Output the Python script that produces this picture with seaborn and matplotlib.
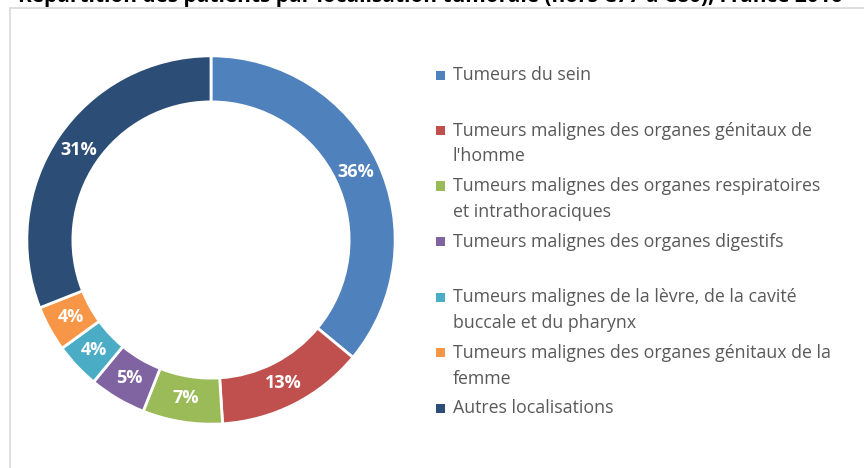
import matplotlib
matplotlib.use("Agg")
import matplotlib.pyplot as plt
import seaborn as sns
from matplotlib.patches import Rectangle
from matplotlib.lines import Line2D

# données
categories = [
    "Tumeurs du sein",
    "Tumeurs malignes des organes génitaux de\nl'homme",
    "Tumeurs malignes des organes respiratoires\net intrathoraciques",
    "Tumeurs malignes des organes digestifs",
    "Tumeurs malignes de la lèvre, de la cavité\nbuccale et du pharynx",
    "Tumeurs malignes des organes génitaux de la\nfemme",
    "Autres localisations",
]
pourcentages = [36, 13, 7, 5, 4, 4, 31]
couleurs = ["#4F81BD", "#C0504D", "#9BBB59", "#8064A2", "#4BACC6", "#F79646", "#2C4D75"]

sns.set_theme(style="white")
plt.rcParams['font.family'] = ['Open Sans', 'DejaVu Sans']
palette = sns.color_palette(couleurs)

W, H = 864, 468
fig = plt.figure(figsize=(W / 100, H / 100), dpi=100)

# cadre du graphique
fig.add_artist(Line2D([10 / W, 10 / W], [0, 1 - 8 / H], color="#D9D9D9", lw=1.2))
fig.add_artist(Line2D([10 / W, 1], [1 - 8 / H, 1 - 8 / H], color="#D9D9D9", lw=1.2))

# titre (coupé en haut, comme sur l'original)
fig.text(18 / W, 1 - 2 / H,
         "Répartition des patients par localisation tumorale (hors C77 à C80), France 2016",
         fontsize=15, fontweight="bold", color="black", va="baseline", ha="left")

# anneau
cx, cy, r = 211, 240, 186
ax = fig.add_axes([(cx - r) / W, (H - cy - r) / H, 2 * r / W, 2 * r / H])
wedges, texts, autotexts = ax.pie(
    pourcentages, colors=palette, startangle=90, counterclock=False,
    radius=1, autopct="%d%%", pctdistance=0.87,
    wedgeprops=dict(width=0.25, edgecolor="white", linewidth=2),
    textprops=dict(color="white", fontsize=13, fontweight="bold"),
)
ax.set_xlim(-1.01, 1.01)
ax.set_ylim(-1.01, 1.01)
ax.set_aspect("equal")
ax.axis("off")

# légende
y0 = 75
pas = 55.5
for i, (lab, col) in enumerate(zip(categories, palette)):
    y = y0 + pas * i
    fig.add_artist(Rectangle((436 / W, 1 - (y + 4.5) / H), 9 / W, 9 / H,
                             transform=fig.transFigure, facecolor=col, edgecolor="none"))
    for j, ligne in enumerate(lab.split("\n")):
        fig.text(453 / W, 1 - (y + 26 * j) / H, ligne, fontsize=12.8,
                 color="#595959", va="center", ha="left")

plt.savefig("out.png", dpi=100)
